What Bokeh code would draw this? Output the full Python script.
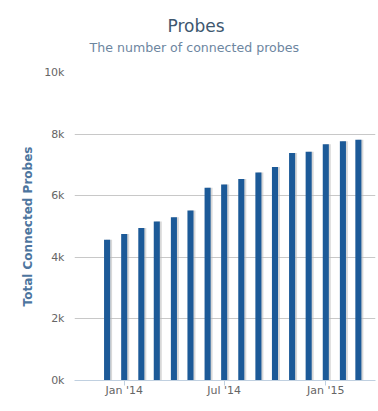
import pandas as pd
from bokeh.plotting import figure
from bokeh.models import (ColumnDataSource, Title, FixedTicker, DatetimeTickFormatter,
                          Range1d, CustomJSTickFormatter)
from bokeh.transform import dodge
from bokeh.embed import file_html
from bokeh.resources import INLINE

# ---- data ----
months = ["2013-12-01", "2014-01-01", "2014-02-01", "2014-03-01", "2014-04-01",
          "2014-05-01", "2014-06-01", "2014-07-01", "2014-08-01", "2014-09-01",
          "2014-10-01", "2014-11-01", "2014-12-01", "2015-01-01", "2015-02-01",
          "2015-03-01"]
probes = [4570, 4760, 4950, 5160, 5300, 5520, 6260, 6360, 6540, 6750,
          6930, 7390, 7430, 7670, 7770, 7820]
tick_dates = ["2014-01-01", "2014-07-01", "2015-01-01"]
y_ticks = [0, 2000, 4000, 6000, 8000, 10000]
x_start, x_end = "2013-10-03", "2015-04-01"
title_text = "Probes"
subtitle_text = "The number of connected probes"

dates = pd.to_datetime(months)
src = ColumnDataSource(dict(x=dates, y=probes))

FONT = "DejaVu Sans"
DAY = 86400000.0

p = figure(width=378, height=411, x_axis_type="datetime",
           output_backend="svg", toolbar_location=None,
           x_range=Range1d(pd.Timestamp(x_start), pd.Timestamp(x_end)),
           y_range=Range1d(0, 10000),
           min_border_left=74, min_border_right=3, min_border_top=72,
           min_border_bottom=31)
p.outline_line_color = None
p.background_fill_color = "white"
p.border_fill_color = "white"

# shadow then bars
p.vbar(x=dodge("x", 3.5 * DAY, range=p.x_range), top="y", width=11 * DAY,
       bottom=0, source=src, fill_color="#b8b8b8", fill_alpha=0.55, line_color=None)
p.vbar(x="x", top="y", width=11 * DAY, bottom=0, source=src,
       fill_color="#1c5a98", line_color=None)

# titles
sub = Title(text=subtitle_text, align="left",
            text_font=FONT, text_font_size="12.6px", text_font_style="normal",
            text_color="#6d869f", standoff=36, offset=15)
ttl = Title(text=title_text, align="left", text_font=FONT, text_font_size="17px",
            text_font_style="normal", text_color="#3e576f", standoff=-33, offset=93)
p.add_layout(sub, "above")
p.add_layout(ttl, "above")

# y axis
yax = p.yaxis[0]
yax.ticker = FixedTicker(ticks=y_ticks)
yax.formatter = CustomJSTickFormatter(code="return (tick/1000) + 'k';")
yax.axis_line_color = None
yax.major_tick_line_color = None
yax.minor_tick_line_color = None
yax.major_label_standoff = 4
yax.major_label_text_font = FONT
yax.major_label_text_font_size = "11px"
yax.major_label_text_color = "#666666"
yax.axis_label = "Total Connected Probes"
yax.axis_label_text_font = FONT
yax.axis_label_text_font_size = "12px"
yax.axis_label_text_font_style = "bold"
yax.axis_label_text_color = "#4d759e"
yax.axis_label_standoff = 6

# x axis
xax = p.xaxis[0]
xax.ticker = FixedTicker(ticks=[pd.Timestamp(d).value / 1e6 for d in tick_dates])
fmt = "%b '%y"
xax.formatter = DatetimeTickFormatter(days=fmt, months=fmt, years=fmt, hours=fmt,
                                      context=None)
xax.axis_line_color = "#c0d0e0"
xax.major_tick_line_color = "#c0d0e0"
xax.major_tick_out = 5
xax.major_tick_in = 0
xax.minor_tick_line_color = None
xax.major_label_standoff = -2
xax.major_label_text_font = FONT
xax.major_label_text_font_size = "11px"
xax.major_label_text_color = "#666666"

p.xgrid.grid_line_color = None
p.ygrid.grid_line_color = "#c8c8c8"
p.ygrid.ticker = FixedTicker(ticks=y_ticks)

open("out.html", "w").write(file_html(p, INLINE))
